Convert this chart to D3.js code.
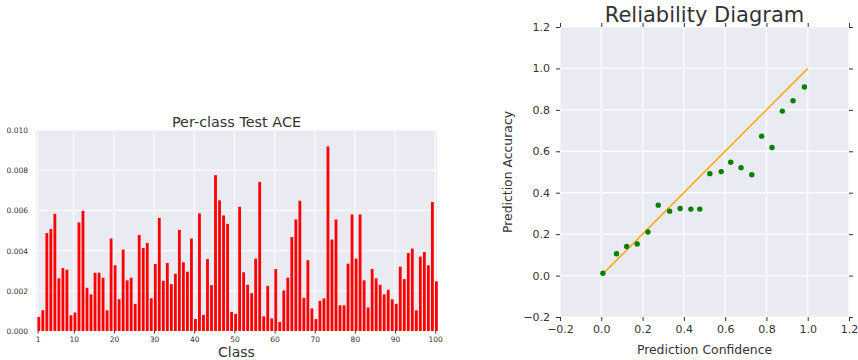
<!DOCTYPE html>
<html>
<head>
<meta charset="utf-8">
<script src="https://cdn.jsdelivr.net/npm/d3@7"></script>
<style>
  body { margin: 0; background: #fff; }
  text { font-family: "DejaVu Sans", sans-serif; fill: #333; }
</style>
</head>
<body>
<div id="chart"></div>
<script>
// Per-class test ACE (classes 1..100)
const classes = d3.range(1, 101);
const aceValues = [
  0.00070, 0.00103, 0.00487, 0.00507, 0.00583, 0.00262, 0.00313, 0.00305, 0.00078, 0.00092,
  0.00540, 0.00598, 0.00215, 0.00182, 0.00290, 0.00290, 0.00265, 0.00103, 0.00460, 0.00327,
  0.00158, 0.00405, 0.00252, 0.00265, 0.00135, 0.00478, 0.00413, 0.00438, 0.00163, 0.00333,
  0.00563, 0.00250, 0.00338, 0.00233, 0.00285, 0.00503, 0.00342, 0.00295, 0.00460, 0.00060,
  0.00585, 0.00080, 0.00358, 0.00228, 0.00775, 0.00650, 0.00575, 0.00533, 0.00095, 0.00085,
  0.00618, 0.00292, 0.00230, 0.00188, 0.00360, 0.00742, 0.00073, 0.00225, 0.00063, 0.00308,
  0.00045, 0.00202, 0.00265, 0.00467, 0.00555, 0.00648, 0.00165, 0.00352, 0.00112, 0.00060,
  0.00150, 0.00162, 0.00918, 0.00455, 0.00555, 0.00128, 0.00128, 0.00335, 0.00580, 0.00360,
  0.00580, 0.00252, 0.00117, 0.00308, 0.00262, 0.00230, 0.00182, 0.00205, 0.00158, 0.00135,
  0.00320, 0.00258, 0.00388, 0.00410, 0.00103, 0.00370, 0.00393, 0.00327, 0.00642, 0.00247
];
const classTicks = [1, 10, 20, 30, 40, 50, 60, 70, 80, 90, 100];
const aceTicks = [0, 0.002, 0.004, 0.006, 0.008, 0.010];

// Reliability diagram bins
const confidence = [0.008, 0.074, 0.123, 0.174, 0.226, 0.276, 0.331, 0.382, 0.434, 0.477,
                    0.526, 0.581, 0.627, 0.677, 0.729, 0.777, 0.827, 0.877, 0.929, 0.984];
const accuracy   = [0.011, 0.105, 0.140, 0.153, 0.210, 0.340, 0.311, 0.324, 0.321, 0.321,
                    0.492, 0.502, 0.547, 0.521, 0.487, 0.673, 0.618, 0.794, 0.844, 0.910];
const perfectLine = [[0, 0], [1, 1]];
const relTicks = [-0.2, 0, 0.2, 0.4, 0.6, 0.8, 1.0, 1.2];

const bg = "#eaeaf2";

const svg = d3.select("#chart").append("svg")
  .attr("width", 858)
  .attr("height", 360);

// ---------- left: per-class bars ----------
const L = { left: 36, right: 437, top: 130, bottom: 331 };
const x1 = d3.scaleLinear().domain([0.6, 100.45]).range([L.left, L.right]);
const y1 = d3.scaleLinear().domain([0, 0.010]).range([L.bottom, L.top]);

const gL = svg.append("g");
gL.append("rect")
  .attr("x", L.left).attr("y", L.top)
  .attr("width", L.right - L.left).attr("height", L.bottom - L.top)
  .attr("fill", bg);

gL.append("g").selectAll("line.h")
  .data(aceTicks)
  .join("line")
  .attr("x1", L.left).attr("x2", L.right)
  .attr("y1", d => y1(d)).attr("y2", d => y1(d))
  .attr("stroke", "#fff").attr("stroke-width", 1);

gL.append("g").selectAll("line.v")
  .data(classTicks)
  .join("line")
  .attr("x1", d => x1(d)).attr("x2", d => x1(d))
  .attr("y1", L.top).attr("y2", L.bottom)
  .attr("stroke", "#fff").attr("stroke-width", 1);

gL.append("g").selectAll("rect")
  .data(aceValues)
  .join("rect")
  .attr("x", (d, i) => x1(classes[i] - 0.05))
  .attr("width", x1(0.7) - x1(0))
  .attr("y", d => y1(d))
  .attr("height", d => y1(0) - y1(d))
  .attr("fill", "#ff0000");

const xAxisL = gL.append("g")
  .attr("transform", `translate(0,${L.bottom})`)
  .call(d3.axisBottom(x1).tickValues(classTicks).tickSize(2.5).tickPadding(3).tickFormat(d3.format("d")));
xAxisL.select(".domain").remove();
xAxisL.selectAll("line").attr("stroke", "#333");
xAxisL.selectAll("text").style("font-size", "7.5px").attr("fill", "#333");

const yAxisL = gL.append("g")
  .attr("transform", `translate(${L.left},0)`)
  .call(d3.axisLeft(y1).tickValues(aceTicks).tickSize(0).tickPadding(8).tickFormat(d3.format(".3f")));
yAxisL.select(".domain").remove();
yAxisL.selectAll("text").style("font-size", "7.5px").attr("fill", "#333");

gL.append("text")
  .attr("x", (L.left + L.right) / 2).attr("y", 127)
  .attr("text-anchor", "middle")
  .style("font-size", "14.4px")
  .text("Per-class Test ACE");

gL.append("text")
  .attr("x", (L.left + L.right) / 2).attr("y", 357)
  .attr("text-anchor", "middle")
  .style("font-size", "14px")
  .text("Class");

// ---------- right: reliability diagram ----------
const R = { left: 560, right: 849, top: 27, bottom: 317 };
const x2 = d3.scaleLinear().domain([-0.2, 1.2]).range([R.left, R.right]);
const y2 = d3.scaleLinear().domain([-0.2, 1.2]).range([R.bottom, R.top]);

const gR = svg.append("g");
gR.append("rect")
  .attr("x", R.left).attr("y", R.top)
  .attr("width", R.right - R.left).attr("height", R.bottom - R.top)
  .attr("fill", bg);

gR.append("g").selectAll("line")
  .data(relTicks)
  .join("line")
  .attr("x1", R.left).attr("x2", R.right)
  .attr("y1", d => y2(d)).attr("y2", d => y2(d))
  .attr("stroke", "#fff").attr("stroke-width", 1.2);

gR.append("g").selectAll("line")
  .data(relTicks)
  .join("line")
  .attr("x1", d => x2(d)).attr("x2", d => x2(d))
  .attr("y1", R.top).attr("y2", R.bottom)
  .attr("stroke", "#fff").attr("stroke-width", 1.2);

gR.append("path")
  .datum(perfectLine)
  .attr("d", d3.line().x(d => x2(d[0])).y(d => y2(d[1])))
  .attr("fill", "none")
  .attr("stroke", "#ffa500")
  .attr("stroke-width", 1.5);

gR.append("g").selectAll("circle")
  .data(confidence)
  .join("circle")
  .attr("cx", d => x2(d))
  .attr("cy", (d, i) => y2(accuracy[i]))
  .attr("r", 2.7)
  .attr("fill", "#008000");

const fmt = d3.format(".1f");
function styleAxis(sel, showText) {
  sel.select(".domain").remove();
  sel.selectAll("line").attr("stroke", "#333");
  sel.selectAll("text").style("font-size", "11px").attr("fill", "#333");
  if (!showText) sel.selectAll("text").remove();
}
gR.append("g").attr("transform", `translate(0,${R.bottom})`)
  .call(d3.axisBottom(x2).tickValues(relTicks).tickSize(4).tickPadding(4).tickFormat(fmt))
  .call(s => styleAxis(s, true));
gR.append("g").attr("transform", `translate(${R.left},0)`)
  .call(d3.axisLeft(y2).tickValues(relTicks).tickSize(4).tickPadding(6).tickFormat(fmt))
  .call(s => styleAxis(s, true));
gR.append("g").attr("transform", `translate(0,${R.top})`)
  .call(d3.axisTop(x2).tickValues(relTicks).tickSize(4))
  .call(s => styleAxis(s, false));
gR.append("g").attr("transform", `translate(${R.right},0)`)
  .call(d3.axisRight(y2).tickValues(relTicks).tickSize(4))
  .call(s => styleAxis(s, false));

gR.append("text")
  .attr("x", (R.left + R.right) / 2).attr("y", 22)
  .attr("text-anchor", "middle")
  .style("font-size", "21px")
  .text("Reliability Diagram");

gR.append("text")
  .attr("x", (R.left + R.right) / 2).attr("y", 354)
  .attr("text-anchor", "middle")
  .style("font-size", "12.4px")
  .text("Prediction Confidence");

gR.append("text")
  .attr("transform", `translate(512,${(R.top + R.bottom) / 2}) rotate(-90)`)
  .attr("text-anchor", "middle")
  .style("font-size", "12.4px")
  .text("Prediction Accuracy");
</script>
</body>
</html>
